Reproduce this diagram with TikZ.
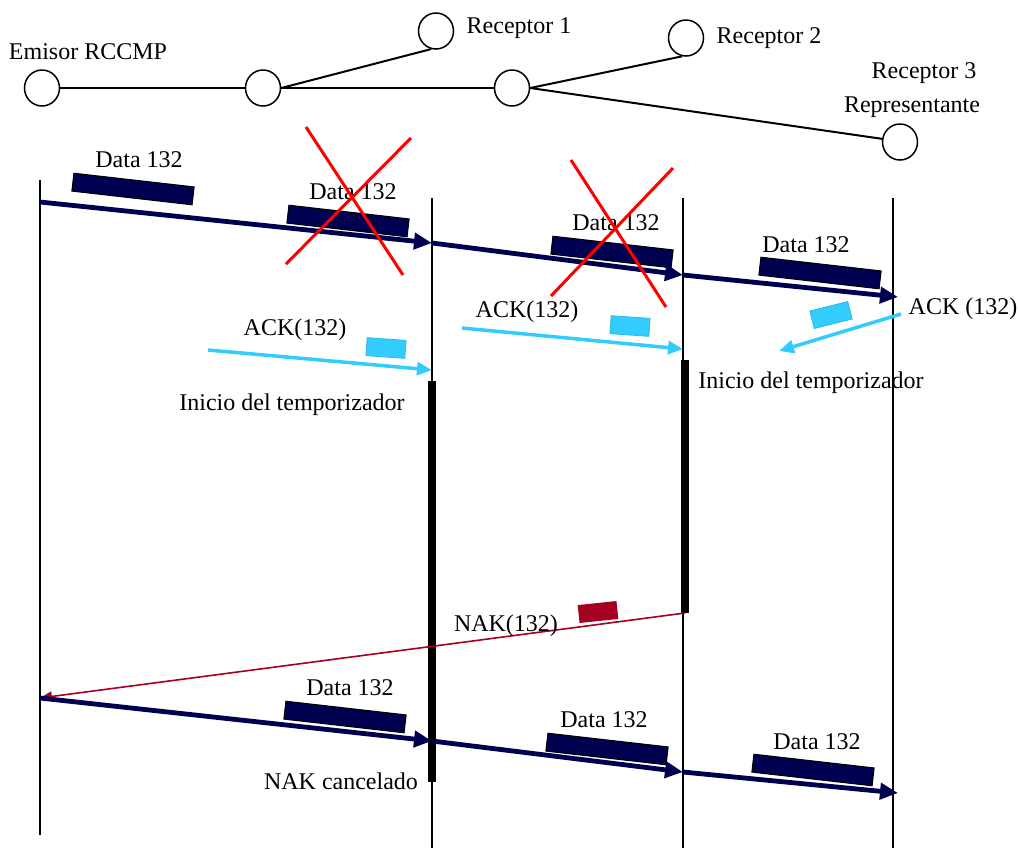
\documentclass[tikz,border=0pt]{standalone}
\usepackage{fontspec}
\setmainfont{Liberation Serif}
\usetikzlibrary{positioning, calc, arrows.meta, shapes.geometric}
\definecolor{pktnavy}{HTML}{000050}
\definecolor{ackblue}{HTML}{33CCFF}
\definecolor{nakred}{HTML}{A50021}
\tikzset{
 host/.style = {
    ellipse, draw, line width=0.75pt,
    minimum width=17.5pt,
    minimum height=18pt, inner sep=0pt},
 link/.style = {
    draw, line width=1pt},
 lifeline/.style = {
    draw, line width=0.75pt},
 timer/.style = {
    draw, line width=4pt},
 dataline/.style = {
    draw, pktnavy, line width=2.4pt,
    -{Triangle[length=9pt, width=8pt]}},
 ackline/.style = {
    draw, ackblue, line width=1.75pt,
    -{Triangle[length=7.5pt, width=6.5pt]}},
 nakline/.style = {
    draw, nakred, line width=0.8pt,
    -{Triangle[length=6pt, width=5pt]}},
 datapkt/.style = {
    rectangle, draw=black, line width=0.5pt, fill=pktnavy,
    minimum width=60.5pt, minimum height=9pt, inner sep=0pt,
    rotate=-6.5},
 ackpkt/.style = {
    rectangle, draw=ackblue!90!black, line width=0.4pt, fill=ackblue,
    minimum width=19.5pt, minimum height=9pt, inner sep=0pt},
 nakpkt/.style = {
    rectangle, fill=nakred,
    minimum width=19.5pt, minimum height=9pt, inner sep=0pt,
    rotate=6},
 cross/.style = {
    draw, red, line width=1.5pt},
 lbl/.style = {
    anchor=base, inner sep=0pt},
}

\begin{document}
\begin{tikzpicture}[x=0.5pt, y=-0.5pt, font=\fontsize{12}{14}\selectfont]
\useasboundingbox (0,0) rectangle (1018,848);

    % Place nodes
    \node [host] (emisor) at (42,88)  {};
    \node [host] (sw1)    at (263,88) {};
    \node [host] (sw2)    at (512,88) {};
    \node [host] (rec1)   at (436,31) {};
    \node [host] (rec2)   at (686,38) {};
    \node [host] (rec3)   at (900,142) {};

    \node [lbl] (emisorlbl) at (88,59)   {Emisor RCCMP};
    \node [lbl] (rec1lbl)   at (519,33)  {Receptor 1};
    \node [lbl] (rec2lbl)   at (769,43)  {Receptor 2};
    \node [lbl] (rec3lbl)   at (924,78)  {Receptor 3};
    \node [lbl] (replbl)    at (912,112) {Representante};

    \draw[link] (emisor.east) -- (sw1.west);
    \draw[link] (sw1.east) -- (sw2.west);
    \draw[link] (sw1.east) -- (rec1.255);
    \draw[link] (sw2.east) -- (rec2.258);
    \draw[link] (sw2.east) -- (rec3.170);

    % lifelines
    \coordinate (stop) at (40,180);  \coordinate (sbot) at (40,835);
    \coordinate (atop) at (432,198); \coordinate (abot) at (432,848);
    \coordinate (btop) at (683,198); \coordinate (bbot) at (683,848);
    \coordinate (ctop) at (893,198); \coordinate (cbot) at (893,848);
    \draw[lifeline] (stop) -- (sbot);
    \draw[lifeline] (atop) -- (abot);
    \draw[lifeline] (btop) -- (bbot);
    \draw[lifeline] (ctop) -- (cbot);

    % timers
    \coordinate (t1top) at (432,381); \coordinate (t1bot) at (432,782);
    \coordinate (t2top) at (685,360); \coordinate (t2bot) at (685,613);
    \draw[timer] (t1top) -- (t1bot);
    \draw[timer] (t2top) -- (t2bot);

    % first transmission
    \coordinate (d0) at (40,202);
    \coordinate (d1) at (432,243);
    \coordinate (d2) at (683,275);
    \coordinate (d3) at (898,297);
    \node [datapkt] (pkt1) at (133,189) {};
    \node [datapkt] (pkt2) at (348,221) {};
    \node [datapkt] (pkt3) at (612,252) {};
    \node [datapkt] (pkt4) at (820,273) {};
    \draw[dataline] (d0) -- (d1);
    \draw[dataline] (d1) -- (d2);
    \draw[dataline] (d2) -- (d3);
    \node [lbl] (pkt1lbl) at (139,167) {Data 132};
    \node [lbl] (pkt2lbl) at (353,199) {Data 132};
    \node [lbl] (pkt3lbl) at (616,230) {Data 132};
    \node [lbl] (pkt4lbl) at (806,252) {Data 132};

    % losses
    \draw[cross] (306,127) -- (403,275);
    \draw[cross] (411,138) -- (286,264);
    \draw[cross] (571,160) -- (666,307);
    \draw[cross] (673,168) -- (551,296);

    % acknowledgements
    \coordinate (ack1s) at (208,350); \coordinate (ack1e) at (432,370);
    \coordinate (ack2s) at (462,328); \coordinate (ack2e) at (683,349);
    \coordinate (ack3s) at (901,314); \coordinate (ack3e) at (779,351);
    \node [ackpkt, rotate=-4] (ack1) at (386,348) {};
    \node [ackpkt, rotate=-4] (ack2) at (630,326) {};
    \node [ackpkt, rotate=14] (ack3) at (831,315) {};
    \draw[ackline] (ack1s) -- (ack1e);
    \draw[ackline] (ack2s) -- (ack2e);
    \draw[ackline] (ack3s) -- (ack3e);
    \node [lbl] (ack1lbl) at (295,335) {ACK(132)};
    \node [lbl] (ack2lbl) at (527,317) {ACK(132)};
    \node [lbl] (ack3lbl) at (963,314) {ACK (132)};

    \node [lbl] (timer1lbl) at (292,410) {Inicio del temporizador};
    \node [lbl] (timer2lbl) at (811,388) {Inicio del temporizador};

    % repair points
    \coordinate (e0) at (40,698);
    \coordinate (e1) at (432,741);
    \coordinate (e2) at (683,772);
    \coordinate (e3) at (898,793);

    % negative acknowledgement
    \node [nakpkt] (nak) at (598,612) {};
    \draw[nakline] (t2bot) -- (e0);
    \node [lbl] (naklbl) at (506,631) {NAK(132)};

    % repair
    \node [datapkt] (rpkt1) at (345,717) {};
    \node [datapkt] (rpkt2) at (607,749) {};
    \node [datapkt] (rpkt3) at (813,770) {};
    \draw[dataline] (e0) -- (e1);
    \draw[dataline] (e1) -- (e2);
    \draw[dataline] (e2) -- (e3);
    \node [lbl] (rpkt1lbl) at (350,695) {Data 132};
    \node [lbl] (rpkt2lbl) at (604,727) {Data 132};
    \node [lbl] (rpkt3lbl) at (817,749) {Data 132};

    \node [lbl] (cancellbl) at (341,789) {NAK cancelado};
\end{tikzpicture}
\end{document}
